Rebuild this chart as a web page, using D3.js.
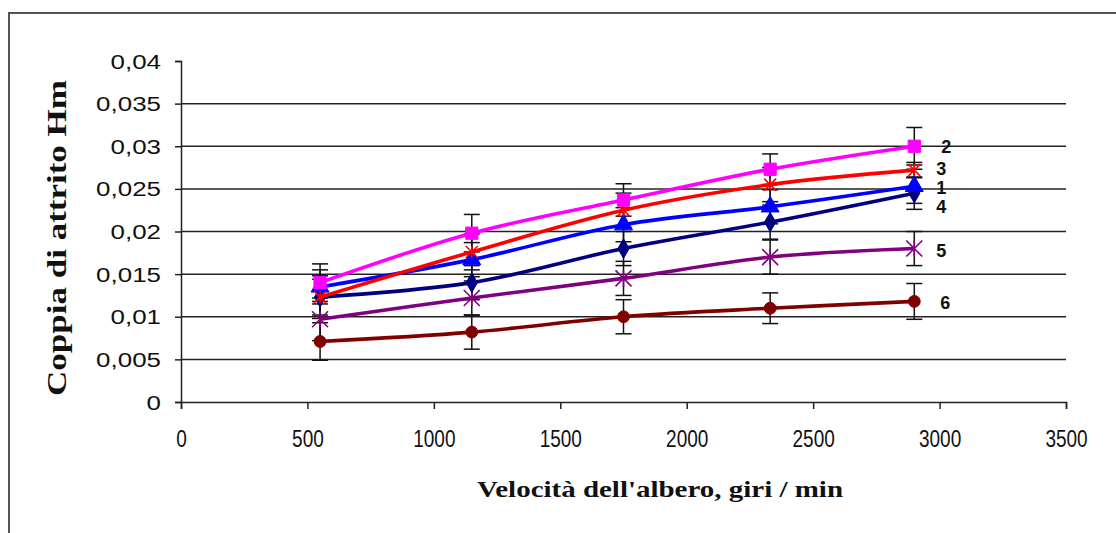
<!DOCTYPE html>
<html>
<head>
    <meta charset="utf-8">
    <script src="https://cdnjs.cloudflare.com/ajax/libs/d3/7.8.5/d3.min.js"></script>
    <style>
        body { margin: 0; background: #fff; }
        svg { display: block; }
    </style>
</head>
<body>
<svg id="chart" width="1116" height="533"></svg>
<script>
// shaft speed, giri / min
var speeds = [550, 1150, 1750, 2330, 2900];

// friction torque for each curve
var curve1 = [0.0135, 0.0167, 0.0208, 0.0229, 0.0253];
var curve2 = [0.0140, 0.0198, 0.0237, 0.0273, 0.0300];
var curve3 = [0.0123, 0.0176, 0.0225, 0.0255, 0.0272];
var curve4 = [0.0123, 0.0140, 0.0180, 0.0211, 0.0245];
var curve5 = [0.0097, 0.0122, 0.0145, 0.0170, 0.0180];
var curve6 = [0.0071, 0.0082, 0.0100, 0.0110, 0.0118];

// error bar half-heights
var err1 = [0.0020, 0.0020, 0.0020, 0.0020, 0.0020];
var err2 = [0.0022, 0.0022, 0.0019, 0.0018, 0.0022];
var err3 = [0.0021, 0.0021, 0.0020, 0.0020, 0.0009];
var err4 = [0.0025, 0.0020, 0.0020, 0.0020, 0.0019];
var err5 = [0.0025, 0.0020, 0.0020, 0.0020, 0.0020];
var err6 = [0.0022, 0.0020, 0.0020, 0.0018, 0.0021];

var curveNames = ["1", "2", "3", "4", "5", "6"];
var xTicks = [0, 500, 1000, 1500, 2000, 2500, 3000, 3500];
var yTicks = [0, 0.005, 0.01, 0.015, 0.02, 0.025, 0.03, 0.035, 0.04];

var series = [
    {name: curveNames[5], values: curve6, err: err6, color: "#800000", marker: "circle", dx: 26, dy: 1},
    {name: curveNames[4], values: curve5, err: err5, color: "#800080", marker: "asterisk", dx: 22, dy: 2},
    {name: curveNames[3], values: curve4, err: err4, color: "#000080", marker: "diamond", dx: 22, dy: 13},
    {name: curveNames[0], values: curve1, err: err1, color: "#0000ff", marker: "triangle", dx: 22, dy: 1},
    {name: curveNames[2], values: curve3, err: err3, color: "#ff0000", marker: "star", dx: 22, dy: -2},
    {name: curveNames[1], values: curve2, err: err2, color: "#ff00ff", marker: "square", dx: 27, dy: 0}
];

var svg = d3.select("#chart");

// outer frame (only top and left edges are visible)
svg.append("path")
    .attr("d", "M9,533 L9,13 L1116,13")
    .attr("fill", "none")
    .attr("stroke", "#555")
    .attr("stroke-width", 2);

var x = d3.scaleLinear().domain([0, 3500]).range([181, 1066]);
var y = d3.scaleLinear().domain([0, 0.04]).range([402, 61]);

var fmt = function (d) { return d === 0 ? "0" : String(+d.toFixed(3)).replace(".", ","); };

// gridlines
svg.append("g")
    .selectAll("line")
    .data(yTicks.filter(function (d) { return d > 0 && d < 0.04; }))
    .enter().append("line")
    .attr("x1", x(0)).attr("x2", x(3500))
    .attr("y1", function (d) { return y(d); })
    .attr("y2", function (d) { return y(d); })
    .attr("stroke", "#222")
    .attr("stroke-width", 1.5);

// axes
var yAxis = svg.append("g")
    .attr("transform", "translate(" + x(0) + ",0)")
    .call(d3.axisLeft(y).tickValues(yTicks).tickFormat(fmt).tickSize(6).tickSizeOuter(6).tickPadding(14));
var xAxis = svg.append("g")
    .attr("transform", "translate(0," + y(0) + ")")
    .call(d3.axisBottom(x).tickValues(xTicks).tickFormat(d3.format("d")).tickSize(7).tickSizeOuter(7).tickPadding(10));

[yAxis, xAxis].forEach(function (g) {
    g.select(".domain").attr("stroke", "#222").attr("stroke-width", 1.5);
    g.selectAll(".tick line").attr("stroke", "#222").attr("stroke-width", 1.5);
});
yAxis.selectAll(".tick text")
    .attr("fill", "#111")
    .style("font-family", "Arial, 'Liberation Sans', sans-serif")
    .style("font-size", "19.5px")
    .attr("transform", "translate(-6,0) scale(1.33,1)")
    .attr("x", -14 / 1.33)
    .attr("dy", "0.36em");
xAxis.selectAll(".tick text")
    .attr("fill", "#111")
    .style("font-family", "Arial, 'Liberation Sans', sans-serif")
    .style("font-size", "19px")
    .attr("transform", "scale(1,1.3)")
    .attr("y", 21);

// axis titles
svg.append("text")
    .attr("transform", "translate(66,238) rotate(-90)")
    .attr("text-anchor", "middle")
    .attr("textLength", 316)
    .attr("lengthAdjust", "spacingAndGlyphs")
    .style("font-family", "'Times New Roman', 'Liberation Serif', serif")
    .style("font-weight", "bold")
    .style("font-size", "28px")
    .attr("fill", "#111")
    .text("Coppia di attrito Hm");

svg.append("text")
    .attr("x", 660)
    .attr("y", 497)
    .attr("text-anchor", "middle")
    .attr("textLength", 366)
    .attr("lengthAdjust", "spacingAndGlyphs")
    .style("font-family", "'Times New Roman', 'Liberation Serif', serif")
    .style("font-weight", "bold")
    .style("font-size", "24px")
    .attr("fill", "#111")
    .text("Velocità dell'albero, giri / min");

// error bars
var bars = svg.append("g");
series.forEach(function (s) {
    s.values.forEach(function (v, i) {
        var cx = x(speeds[i]), top = y(v + s.err[i]), bot = y(v - s.err[i]);
        bars.append("line").attr("x1", cx).attr("x2", cx).attr("y1", top).attr("y2", bot)
            .attr("stroke", "#111").attr("stroke-width", 1.5);
        [top, bot].forEach(function (yy) {
            bars.append("line").attr("x1", cx - 8).attr("x2", cx + 8).attr("y1", yy).attr("y2", yy)
                .attr("stroke", "#111").attr("stroke-width", 1.5);
        });
    });
});

var line = d3.line()
    .x(function (d, i) { return x(speeds[i]); })
    .y(function (d) { return y(d); })
    .curve(d3.curveCatmullRom.alpha(0.5));

function markerPath(type) {
    var r = 6;
    if (type === "square") return d3.symbol().type(d3.symbolSquare).size(150)();
    if (type === "triangle") return d3.symbol().type(d3.symbolTriangle).size(140)();
    if (type === "diamond") return d3.symbol().type(d3.symbolDiamond).size(110)();
    if (type === "circle") return d3.symbol().type(d3.symbolCircle).size(110)();
    if (type === "star") r = 6;
    if (type === "asterisk") r = 8;
    return "M" + (-r) + "," + (-r) + "L" + r + "," + r + "M" + (-r) + "," + r + "L" + r + "," + (-r) +
        "M0," + (-r) + "L0," + r;
}

series.forEach(function (s) {
    var g = svg.append("g");
    g.append("path")
        .attr("d", line(s.values))
        .attr("fill", "none")
        .attr("stroke", s.color)
        .attr("stroke-width", 3.6);
    var stroked = s.marker === "asterisk" || s.marker === "star";
    g.selectAll("path.m")
        .data(s.values)
        .enter().append("path")
        .attr("class", "m")
        .attr("transform", function (d, i) { return "translate(" + x(speeds[i]) + "," + y(d) + ")"; })
        .attr("d", markerPath(s.marker))
        .attr("fill", stroked ? "none" : s.color)
        .attr("stroke", s.color)
        .attr("stroke-width", stroked ? 1.6 : 1);
    var last = s.values.length - 1;
    g.append("text")
        .attr("x", x(speeds[last]) + s.dx)
        .attr("y", y(s.values[last]) + s.dy)
        .attr("dy", "0.36em")
        .style("font-family", "Arial, 'Liberation Sans', sans-serif")
        .style("font-weight", "bold")
        .style("font-size", "18px")
        .attr("fill", "#111")
        .text(s.name);
});
</script>
</body>
</html>
